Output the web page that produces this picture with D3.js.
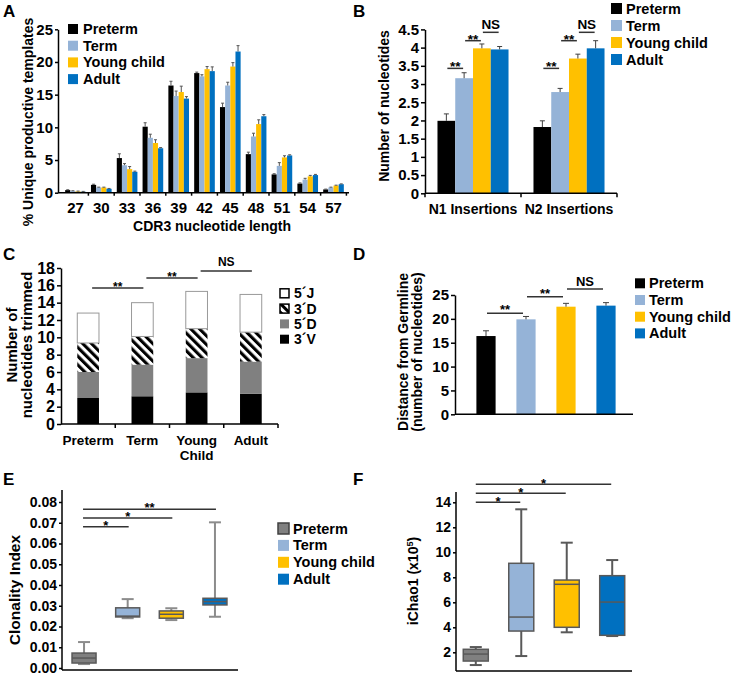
<!DOCTYPE html>
<html><head><meta charset="utf-8">
<script src="https://cdn.jsdelivr.net/npm/d3@7/dist/d3.min.js"></script>
<style>
html,body{margin:0;padding:0;background:#fff;}
svg{display:block;}
</style></head>
<body>
<svg id="fig" width="731" height="675"></svg>
<script>
// ---------------- data ----------------
const groups = ["Preterm", "Term", "Young child", "Adult"];
const groupColors = ["#000000", "#95b3d7", "#ffc000", "#0070c0"];

// Panel A: CDR3 length distribution (% unique productive templates)
const cdr3Lengths = ["27","30","33","36","39","42","45","48","51","54","57"];
const cdr3Preterm = [0.4, 1.2, 5.3, 10.1, 16.4, 18.3, 13.1, 5.9, 2.8, 1.4, 0.5];
const cdr3Term    = [0.25, 0.8, 4.2, 8.4, 14.8, 17.8, 16.4, 8.6, 4.1, 2.0, 0.8];
const cdr3Young   = [0.2, 0.8, 3.6, 7.6, 15.4, 18.9, 19.3, 10.5, 5.4, 2.5, 1.1];
const cdr3Adult   = [0.15, 0.6, 3.2, 6.8, 14.4, 18.6, 21.6, 11.7, 5.7, 2.7, 1.3];
const cdr3ErrPreterm = [0.05, 0.1, 0.65, 0.6, 0.65, 0.15, 0.6, 0.3, 0.1, 0.1, 0.05];
const cdr3ErrTerm    = [0.05, 0.05, 0.25, 0.55, 0.75, 0.25, 0.5, 0.5, 0.5, 0.2, 0.05];
const cdr3ErrYoung   = [0.05, 0.05, 0.4, 0.5, 0.9, 0.4, 0.6, 0.65, 0.25, 0.15, 0.05];
const cdr3ErrAdult   = [0.05, 0.05, 0.1, 0.1, 0.3, 0.65, 0.9, 0.25, 0.1, 0.1, 0.05];
const cdr3Ticks = [0, 5, 10, 15, 20, 25];

// Panel B: N insertions
const insertionTypes = ["N1 Insertions", "N2 Insertions"];
const insPreterm = [1.99, 1.82];
const insTerm    = [3.16, 2.78];
const insYoung   = [3.98, 3.70];
const insAdult   = [3.95, 3.98];
const insErrPreterm = [0.19, 0.17];
const insErrTerm    = [0.15, 0.10];
const insErrYoung   = [0.12, 0.12];
const insErrAdult   = [0.08, 0.21];
const insTicks = [0, 0.5, 1, 1.5, 2, 2.5, 3, 3.5, 4, 4.5];
const sigPairs = [[0, 1], [1, 2], [2, 3]];
const insSigLevels = [3.43, 4.19, 4.42];
const insSigLabels = ["**", "**", "NS"];

// Panel C: nucleotides trimmed (stacked)
const trimGroups = ["Preterm", "Term", "Young Child", "Adult"];
const trimGroupLines = [["Preterm"], ["Term"], ["Young", "Child"], ["Adult"]];
const trimSegments = ["3´V", "5´D", "3´D", "5´J"];
const trim3V = [3.0, 3.2, 3.65, 3.5];
const trim5D = [3.0, 3.65, 3.95, 3.7];
const trim3D = [3.35, 3.25, 3.4, 3.4];
const trim5J = [3.45, 3.9, 4.3, 4.35];
const trimTicks = [0, 2, 4, 6, 8, 10, 12, 14, 16, 18];
const trimSigLevels = [15.7, 16.85, 17.65];
const trimSigLabels = ["**", "**", "NS"];

// Panel D: distance from germline
const germDistance = [16.4, 19.9, 22.55, 22.77];
const germErr = [1.1, 0.6, 0.7, 0.63];
const germTicks = [0, 5, 10, 15, 20, 25];
const germSigLevels = [21.16, 24.65, 26.26];
const germSigLabels = ["**", "**", "NS"];

// Panel E: clonality index  [min, q1, median, q3, max]
const clonPreterm = [0.0019, 0.0024, 0.0048, 0.0072, 0.0125];
const clonTerm    = [0.0240, 0.0246, 0.0250, 0.0290, 0.0332];
const clonYoung   = [0.0231, 0.0240, 0.0259, 0.0275, 0.0288];
const clonAdult   = [0.0247, 0.0304, 0.0320, 0.0336, 0.0702];
const clonTicks = [0, 0.01, 0.02, 0.03, 0.04, 0.05, 0.06, 0.07, 0.08];
const clonSigTargets = [1, 2, 3];
const clonSigLevels = [0.0681, 0.0723, 0.0765];
const clonSigLabels = ["*", "*", "**"];

// Panel F: iChao1 (x10^5)  [min, q1, median, q3, max]
const chaoPreterm = [0.98, 1.3, 1.86, 2.24, 2.42];
const chaoTerm    = [1.7, 3.7, 4.82, 9.12, 13.44];
const chaoYoung   = [3.6, 4.0, 7.44, 7.78, 10.77];
const chaoAdult   = [3.3, 3.36, 6.02, 8.13, 9.38];
const chaoTicks = [2, 4, 6, 8, 10, 12, 14];
const chaoSigTargets = [1, 2, 3];
const chaoSigLevels = [14.0, 14.72, 15.44];
const chaoSigLabels = ["*", "*", "*"];

// ---------------- helpers ----------------
const FONT = '"Liberation Sans", Arial, Helvetica, sans-serif';
const svg = d3.select("#fig").attr("font-family", FONT).attr("font-weight", "bold");
const defs = svg.append("defs");
function makeHatch(id, w) {
  const p = defs.append("pattern").attr("id", id).attr("patternUnits", "userSpaceOnUse")
    .attr("width", w).attr("height", w).attr("patternTransform", "rotate(-45)");
  p.append("rect").attr("width", w).attr("height", w).attr("fill", "#fff");
  p.append("rect").attr("width", w / 2).attr("height", w).attr("fill", "#000");
}
makeHatch("hatch", 6.2);
makeHatch("hatchL", 6);

function text(x, y, s, size, anchor = "middle") {
  return svg.append("text").attr("x", x).attr("y", y).attr("font-size", size)
    .attr("text-anchor", anchor).attr("fill", "#000").text(s);
}
function rotText(cx, cy, s, size) {
  return svg.append("text").attr("transform", `translate(${cx},${cy}) rotate(-90)`)
    .attr("dy", "0.35em").attr("font-size", size).attr("text-anchor", "middle").attr("fill", "#000").text(s);
}
function line(x1, y1, x2, y2, color = "#000", w = 1.5) {
  return svg.append("line").attr("x1", x1).attr("y1", y1).attr("x2", x2).attr("y2", y2)
    .attr("stroke", color).attr("stroke-width", w);
}
function yAxis(scale, x, ticks, fmt, size, tickLen, keepDomain = true) {
  const g = svg.append("g").attr("transform", `translate(${x},0)`)
    .call(d3.axisLeft(scale).tickValues(ticks).tickFormat(fmt).tickSize(tickLen).tickSizeOuter(0).tickPadding(2));
  g.attr("font-family", FONT).attr("font-size", size).attr("font-weight", "bold");
  g.selectAll(".tick line").attr("stroke", "#000").attr("stroke-width", 1.5);
  g.selectAll(".tick text").attr("fill", "#000");
  if (keepDomain) g.select(".domain").attr("stroke", "#000").attr("stroke-width", 1.5);
  else g.select(".domain").remove();
  return g;
}
function legend(x, y0, dy, labels, fills, size, sq, strokes, gap = 5) {
  labels.forEach((l, i) => {
    const cy = y0 + i * dy;
    svg.append("rect").attr("x", x).attr("y", cy - sq / 2).attr("width", sq).attr("height", sq)
      .attr("fill", fills[i]).attr("stroke", strokes ? strokes[i] : "none").attr("stroke-width", 1.5);
    text(x + sq + gap, cy, l, size, "start").attr("dy", "0.35em");
  });
}
function sig(x1, x2, y, label, size, starOff = 3, nsOff = -3) {
  line(x1, y, x2, y, "#333", 1.5);
  const isNS = label === "NS";
  text((x1 + x2) / 2, y + (isNS ? nsOff : starOff), label, size);
}
function box(xc, w, ys, st, fill, whisk, edge) {
  line(xc, ys(st[0]), xc, ys(st[4]), whisk, 2);
  line(xc - 6, ys(st[0]), xc + 6, ys(st[0]), whisk, 2);
  line(xc - 6, ys(st[4]), xc + 6, ys(st[4]), whisk, 2);
  svg.append("rect").attr("x", xc - w / 2).attr("y", ys(st[3])).attr("width", w)
    .attr("height", ys(st[1]) - ys(st[3])).attr("fill", fill).attr("stroke", edge).attr("stroke-width", 1.5);
  line(xc - w / 2, ys(st[2]), xc + w / 2, ys(st[2]), edge, 1.5);
}
function errBar(xc, yTop, yErr, color = "#404040", cap = 3) {
  line(xc, yTop, xc, yErr, color, 1);
  line(xc - cap / 2, yErr, xc + cap / 2, yErr, color, 1);
}

// ---------------- Panel A ----------------
{
  const series = [cdr3Preterm, cdr3Term, cdr3Young, cdr3Adult];
  const errs = [cdr3ErrPreterm, cdr3ErrTerm, cdr3ErrYoung, cdr3ErrAdult];
  const y = d3.scaleLinear().domain([0, 25]).range([192.7, 29.3]);
  const x = d3.scaleBand().domain(cdr3Lengths).range([60, 349]).padding(0.2);
  const xs = d3.scaleBand().domain(groups).range([0, x.bandwidth()]);
  series.forEach((vals, si) => {
    vals.forEach((v, i) => {
      const bx = x(cdr3Lengths[i]) + xs(groups[si]);
      svg.append("rect").attr("x", bx).attr("y", y(v)).attr("width", xs.bandwidth())
        .attr("height", y(0) - y(v)).attr("fill", groupColors[si]);
      errBar(bx + xs.bandwidth() / 2, y(v), y(v + errs[si][i]), "#555", 3);
    });
  });
  yAxis(y, 58, cdr3Ticks, d => d, 15, 3);
  line(58, y(0), 349, y(0));
  cdr3Lengths.forEach(c => {
    const tx = x(c) + x.bandwidth() / 2 + x.step() / 2;
    line(tx, y(0), tx, y(0) + 3);
    text(x(c) + x.bandwidth() / 2, 213, c, 15);
  });
  text(212, 231, "CDR3 nucleotide length", 14);
  rotText(28, 122, "% Unique productive templates", 14);
  text(3, 17, "A", 17, "start");
  legend(68, 29, 16.7, groups, groupColors, 14.5, 10, null, 5);
}

// ---------------- Panel B ----------------
{
  const series = [insPreterm, insTerm, insYoung, insAdult];
  const errs = [insErrPreterm, insErrTerm, insErrYoung, insErrAdult];
  const y = d3.scaleLinear().domain([0, 4.5]).range([193.3, 29.4]);
  const x = d3.scaleBand().domain(insertionTypes).range([425, 617]).paddingInner(0.26).paddingOuter(0.13);
  const xs = d3.scaleBand().domain(groups).range([0, x.bandwidth()]);
  series.forEach((vals, si) => {
    vals.forEach((v, i) => {
      const bx = x(insertionTypes[i]) + xs(groups[si]);
      svg.append("rect").attr("x", bx).attr("y", y(v)).attr("width", xs.bandwidth())
        .attr("height", y(0) - y(v)).attr("fill", groupColors[si]);
      errBar(bx + xs.bandwidth() / 2, y(v), y(v + errs[si][i]), "#404040", 5);
    });
  });
  yAxis(y, 425, insTicks, d3.format(""), 15, 4);
  line(425, y(0), 617, y(0));
  [425, 521, 617].forEach(tx => line(tx, y(0), tx, y(0) + 4));
  insertionTypes.forEach(t => {
    const base = x(t);
    text(base + x.bandwidth() / 2, 214, t, 14);
    sigPairs.forEach((pr, k) => {
      const c1 = base + xs(groups[pr[0]]) + xs.bandwidth() / 2;
      const c2 = base + xs(groups[pr[1]]) + xs.bandwidth() / 2;
      sig(c1 + 1, c2 - 1, y(insSigLevels[k]), insSigLabels[k], 13.5, 3, -3);
    });
  });
  rotText(384, 106, "Number of nucleotides", 14);
  text(353, 17, "B", 17, "start");
  legend(611, 8.5, 17, groups, groupColors, 14.5, 11, null, 4);
}

// ---------------- Panel C ----------------
{
  const rows = trimGroups.map((g, i) => ({ g, "3´V": trim3V[i], "5´D": trim5D[i], "3´D": trim3D[i], "5´J": trim5J[i] }));
  const stacked = d3.stack().keys(trimSegments)(rows);
  const fills = { "3´V": "#000", "5´D": "#808080", "3´D": "url(#hatch)", "5´J": "#fff" };
  const y = d3.scaleLinear().domain([0, 18]).range([424, 268]);
  const x = d3.scaleBand().domain(trimGroups).range([61, 278]).paddingInner(0.6).paddingOuter(0.3);
  stacked.forEach(layer => {
    layer.forEach(d => {
      svg.append("rect").attr("x", x(d.data.g)).attr("y", y(d[1])).attr("width", x.bandwidth())
        .attr("height", y(d[0]) - y(d[1])).attr("fill", fills[layer.key])
        .attr("stroke", layer.key === "5´J" ? "#999" : "none").attr("stroke-width", 1);
    });
  });
  yAxis(y, 61, trimTicks, d => d, 16, 4);
  line(61, y(0), 278, y(0));
  trimGroups.forEach((g, i) => {
    const tx = x(g) + x.bandwidth() / 2 + x.step() / 2;
    line(tx, y(0), tx, y(0) + 4);
    trimGroupLines[i].forEach((s, j) => text(x(g) + x.bandwidth() / 2, 445 + j * 15, s, 13.5));
  });
  sigPairs.forEach((pr, k) => {
    const c1 = x(trimGroups[pr[0]]) + x.bandwidth() / 2;
    const c2 = x(trimGroups[pr[1]]) + x.bandwidth() / 2;
    sig(c1 + 4, c2 + 1, y(trimSigLevels[k]), trimSigLabels[k], 12, 3, -5);
  });
  rotText(12, 345, "Number of", 15);
  rotText(27, 345, "nucleotides trimmed", 15);
  text(3, 260, "C", 17, "start");
  legend(280, 293.3, 15.3, ["5´J", "3´D", "5´D", "3´V"], ["#fff", "url(#hatchL)", "#808080", "#000"], 14, 9,
    ["#000", "#000", "none", "none"], 5);
}

// ---------------- Panel D ----------------
{
  const y = d3.scaleLinear().domain([0, 25]).range([414.3, 295]);
  const x = d3.scaleBand().domain(groups).range([466, 626]).paddingInner(0.52).paddingOuter(0.26);
  germDistance.forEach((v, i) => {
    const bx = x(groups[i]);
    svg.append("rect").attr("x", bx).attr("y", y(v)).attr("width", x.bandwidth())
      .attr("height", y(0) - y(v)).attr("fill", groupColors[i]);
    errBar(bx + x.bandwidth() / 2, y(v), y(v + germErr[i]), "#404040", 6);
  });
  yAxis(y, 455, germTicks, d => d, 15, 4);
  line(455, y(0), 633, y(0));
  sigPairs.forEach((pr, k) => {
    const c1 = x(groups[pr[0]]) + x.bandwidth() / 2;
    const c2 = x(groups[pr[1]]) + x.bandwidth() / 2;
    sig(c1 + 1, c2 - 3, y(germSigLevels[k]), germSigLabels[k], 13, 1, -3);
  });
  rotText(403.5, 352, "Distance from Germline", 14);
  rotText(417, 352, "(number of nucleotides)", 14);
  text(353, 260, "D", 17, "start");
  legend(635, 283.3, 16.7, groups, groupColors, 14.5, 10, null, 4);
}

// ---------------- Panel E ----------------
{
  const stats = [clonPreterm, clonTerm, clonYoung, clonAdult];
  const boxFills = ["#808080", "#95b3d7", "#ffc000", "#0070c0"];
  const y = d3.scaleLinear().domain([0, 0.08]).range([668, 502]);
  const x = d3.scaleBand().domain(groups).range([62, 237]).paddingInner(0.45).paddingOuter(0.23);
  yAxis(y, 62, clonTicks, d3.format(".2f"), 14, 3, false);
  line(62, 490, 62, 670);
  line(62, 670, 238, 670);
  stats.forEach((st, i) => box(x(groups[i]) + x.bandwidth() / 2, x.bandwidth(), y, st, boxFills[i], "#8c8c8c", "#595959"));
  const c0 = x(groups[0]) + x.bandwidth() / 2;
  clonSigTargets.forEach((t, k) => {
    const c2 = x(groups[t]) + x.bandwidth() / 2;
    sig(c0 - 1, c2 + 1, y(clonSigLevels[k]), clonSigLabels[k], 13, 3, -3);
  });
  rotText(15, 590, "Clonality Index", 15.5);
  text(3, 485, "E", 17, "start");
  legend(278, 528.5, 16.9, groups, boxFills, 14.5, 11, ["#404040", "none", "none", "none"], 4);
}

// ---------------- Panel F ----------------
{
  const stats = [chaoPreterm, chaoTerm, chaoYoung, chaoAdult];
  const boxFills = ["#808080", "#95b3d7", "#ffc000", "#0070c0"];
  const y = d3.scaleLinear().domain([0, 14]).range([677.3, 502.3]);
  const x = d3.scaleBand().domain(groups).range([456, 632]).paddingInner(0.45).paddingOuter(0.16);
  yAxis(y, 456, chaoTicks, d => d, 14, 3, false);
  line(456, 492, 456, 671);
  line(456, 671, 632, 671);
  stats.forEach((st, i) => box(x(groups[i]) + x.bandwidth() / 2, x.bandwidth(), y, st, boxFills[i], "#595959", "#595959"));
  const c0 = x(groups[0]) + x.bandwidth() / 2;
  chaoSigTargets.forEach((t, k) => {
    const c2 = x(groups[t]) + x.bandwidth() / 2;
    sig(c0, c2 - 1, y(chaoSigLevels[k]), chaoSigLabels[k], 13, 4, -3);
  });
  const t = svg.append("text").attr("transform", "translate(413,581) rotate(-90)").attr("dy", "0.35em")
    .attr("font-size", 14).attr("text-anchor", "middle").attr("fill", "#000");
  t.append("tspan").text("iChao1 (x10");
  t.append("tspan").attr("font-size", 9).attr("dy", "-0.5em").text("5");
  t.append("tspan").attr("dy", "0.35em").text(")");
  text(353, 485, "F", 17, "start");
}
</script>
</body></html>
